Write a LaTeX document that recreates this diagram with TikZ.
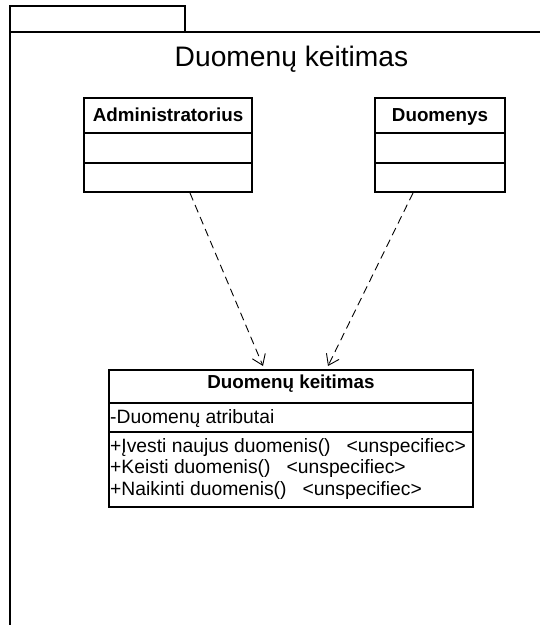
\documentclass[tikz,border=0pt]{standalone}
\usepackage{fontspec}
\setmainfont{Liberation Sans}
\usetikzlibrary{arrows.meta,calc}
\begin{document}
\begin{tikzpicture}[x=1pt,y=-1pt,
  frame/.style={line width=1.4pt},
  classbox/.style={draw,line width=1.3pt,inner sep=0pt,outer sep=0pt},
  classname/.style={font=\bfseries\fontsize{18.8}{18.8}\selectfont,anchor=base,inner sep=0pt},
  member/.style={font=\fontsize{19.3}{19.3}\selectfont,anchor=base west,inner sep=0pt},
  dep/.style={line width=0.9pt,dash pattern=on 8pt off 5pt,-{Straight Barb[length=10pt,width=14pt]}}]
\useasboundingbox (0,0) rectangle (540,625);
% package frame with its tab
\draw[frame] (10,6) rectangle (185,32);
\draw[frame] (540,32) -- (10,32) -- (10,626);
\node[font=\fontsize{28.2}{28.2}\selectfont,anchor=base,inner sep=0pt] (pkgtitle) at (291.5,66) {Duomenų keitimas};

% class Administratorius
\node[classbox,minimum width=168,minimum height=94] (admin) at (168,145) {};
\draw[line width=1.3pt] ($(admin.north west)+(0,35)$) -- ($(admin.north east)+(0,35)$);
\draw[line width=1.3pt] ($(admin.north west)+(0,65)$) -- ($(admin.north east)+(0,65)$);
\node[classname] (adminname) at ($(admin.north)+(0,23)$) {Administratorius};

% class Duomenys
\node[classbox,minimum width=130,minimum height=94] (data) at (440,145) {};
\draw[line width=1.3pt] ($(data.north west)+(0,35)$) -- ($(data.north east)+(0,35)$);
\draw[line width=1.3pt] ($(data.north west)+(0,65)$) -- ($(data.north east)+(0,65)$);
\node[classname] (dataname) at ($(data.north)+(0,23)$) {Duomenys};

% class Duomenų keitimas
\node[classbox,minimum width=364,minimum height=137] (edit) at (291,438.5) {};
\draw[line width=1.3pt] ($(edit.north west)+(0,33)$) -- ($(edit.north east)+(0,33)$);
\draw[line width=1.3pt] ($(edit.north west)+(0,62)$) -- ($(edit.north east)+(0,62)$);
\node[classname] (editname) at ($(edit.north)+(0,18)$) {Duomenų keitimas};
\node[member] (attr) at ($(edit.north west)+(1,53)$) {-Duomenų atributai};
\node[member] (op1) at ($(edit.north west)+(1,82)$) {+Įvesti naujus duomenis()\ \ \ <unspecifiec>};
\node[member] (op2) at ($(edit.north west)+(1,103.5)$) {+Keisti duomenis()\ \ \ <unspecifiec>};
\node[member] (op3) at ($(edit.north west)+(1,125)$) {+Naikinti duomenis()\ \ \ <unspecifiec>};

% dependencies
\draw[dep] ($(admin.south)+(22,1)$) -- ($(edit.north)+(-28,-4)$);
\draw[dep] ($(data.south)+(-27,1)$) -- ($(edit.north)+(37,-4)$);
\end{tikzpicture}
\end{document}
